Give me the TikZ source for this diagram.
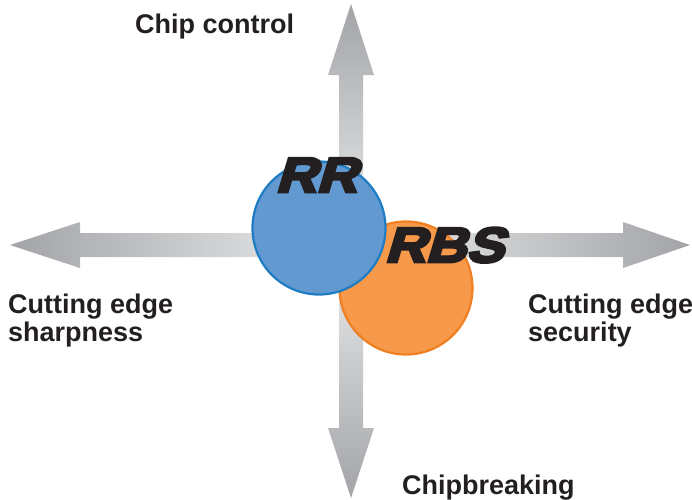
\documentclass[tikz,border=0pt]{standalone}
\usepackage{fontspec}
\setmainfont{Liberation Sans}
\newfontfamily\labelfont{Liberation Sans Bold}
\newfontfamily\logofont[FakeSlant=0.3,FakeStretch=1.15,FakeBold=6]{Liberation Sans Bold}
\definecolor{inktext}{HTML}{231F20}
\definecolor{arrowdark}{HTML}{A3A4A7}
\definecolor{arrowlight}{HTML}{EDEEEF}
\definecolor{rrfill}{HTML}{6399D1}
\definecolor{rrline}{HTML}{1E7DC2}
\definecolor{rbsfill}{HTML}{F7994A}
\definecolor{rbsline}{HTML}{F07F22}
\tikzset{
  axislabel/.style={font=\labelfont\fontsize{27}{28}\selectfont, text=inktext, inner sep=0pt, align=left},
  logotext/.style={font=\logofont\fontsize{49}{49}\selectfont, text=inktext, inner sep=0pt, anchor=base},
  disc/.style={circle, minimum size=133pt, inner sep=0pt, line width=2.2pt},
}
\begin{document}
\begin{tikzpicture}[x=1pt,y=-1pt]
  \useasboundingbox (0,0) rectangle (692,499);
  % four grey axis arrows leaving the centre
  \shade[top color=arrowdark, bottom color=arrowlight]
    (339,245) -- (339,75) -- (328,75) -- (351,4) -- (374,75) -- (363,75) -- (363,245) -- cycle;
  \shade[top color=arrowlight, bottom color=arrowdark]
    (339,245) -- (339,428) -- (328,428) -- (351,498) -- (374,428) -- (363,428) -- (363,245) -- cycle;
  \shade[left color=arrowdark, right color=arrowlight]
    (351,233) -- (80,233) -- (80,222) -- (10,245) -- (80,268) -- (80,257) -- (351,257) -- cycle;
  \shade[left color=arrowlight, right color=arrowdark]
    (351,233) -- (623,233) -- (623,222) -- (690,245) -- (623,268) -- (623,257) -- (351,257) -- cycle;
  % the two discs
  \node[disc, fill=rbsfill, draw=rbsline] (rbsdisc) at (406,288) {};
  \node[disc, fill=rrfill, draw=rrline] (rrdisc) at (319,228) {};
  % disc titles
  \node[logotext] (rr) at (316,192) {RR};
  \node[logotext] (rbs) at (444,262) {RBS};
  % axis labels
  \node[axislabel, anchor=base west] (chipcontrol) at (135,33) {Chip control};
  \node[axislabel, anchor=base west] (sharpness) at (8,341) {Cutting edge\\sharpness};
  \node[axislabel, anchor=base west] (security) at (528,341) {Cutting edge\\security};
  \node[axislabel, anchor=base west] (chipbreaking) at (402,494) {Chipbreaking};
\end{tikzpicture}
\end{document}
